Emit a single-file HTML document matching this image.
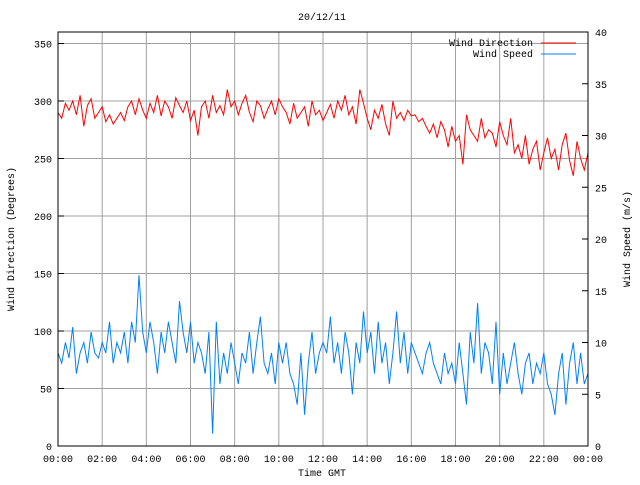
<!DOCTYPE html>
<html><head><meta charset="utf-8"><style>
body{margin:0;background:#fff}
svg text{font-family:"Liberation Mono",monospace;font-size:10px;fill:#000}
</style></head><body>
<svg id="chart" width="640" height="480">
<rect width="640" height="480" fill="#fff"/>
<g id="grid"></g><g id="series"></g><g id="axes"></g>
</svg>
<script>
const dirValues=[290,285,298,292,300,288,305,278,296,302,285,290,295,
282,288,280,285,290,283,295,300,288,302,292,285,
298,290,305,287,300,295,285,303,296,290,300,283,
292,270,295,300,285,305,290,296,288,310,295,300,
288,298,305,290,282,300,296,285,293,300,288,302,
295,290,280,298,285,290,295,278,300,288,292,283,
290,297,285,300,292,305,288,295,280,310,298,285,
275,292,285,297,280,270,300,285,290,283,292,287,
288,282,285,278,272,280,268,282,275,260,278,265,
270,245,288,275,270,265,285,268,275,272,260,282,
270,262,285,255,262,250,270,245,258,265,240,255,
268,250,258,240,262,272,248,235,265,250,240,255];
const speedValues=[9,8,10,8.5,11.5,7,9,10,8,11,9,8.5,10,
9,12,8,10,9,11,8,12,10,16.5,11,9,
12,10,7,11,9,12,10,8,14,11,9,12,
8,10,9,7,11,1.2,12,6,9,7,10,8,
6,9,8,11,7,10,12.5,8,7,9,6,10,
8,10,7,6,4,9,3,8,11,7,9,10,
9,12.5,8,10,7,11,9,5,10,8,13,9,
11,7,12,8,10,6,9,13,8,11,7,10,
9,8,7,9,10,8,7,6,9,7,8,6,
10,7,4,11,8,13.8,7,10,9,6,12,5,
9,6,8,10,7,5,8,9,6,8,7,9,
6,5,3,7,9,4,8,10,6,9,6,7];
const xTickLabels=["00:00","02:00","04:00","06:00","08:00","10:00","12:00","14:00","16:00","18:00","20:00","22:00","00:00"];
const leftTicks=[0,50,100,150,200,250,300,350];
const rightTicks=[0,5,10,15,20,25,30,35,40];
const X0=58,X1=588,Y0=446,Y1=32;
const xH=h=>X0+(X1-X0)*h/24;
const yL=v=>Y0-(Y0-Y1)*v/360;
const yR=v=>Y0-(Y0-Y1)*v/40;
const NS="http://www.w3.org/2000/svg";
function mk(parent,tag,attrs,text){const e=document.createElementNS(NS,tag);for(const k in attrs)e.setAttribute(k,attrs[k]);if(text!==undefined)e.textContent=text;document.getElementById(parent).appendChild(e);return e;}
xTickLabels.forEach((t,i)=>{const x=xH(i*2);
 const g=mk('grid','line',{x1:x,x2:x,y1:Y1,y2:Y0,stroke:'#a0a0a0'});
 
 
 const l=mk('axes','text',{x:x,y:462,'text-anchor':'middle'},t);
 
 });
leftTicks.forEach(v=>{const y=yL(v);
 const g=mk('grid','line',{x1:X0,x2:X1,y1:y,y2:y,stroke:'#a0a0a0'});
 
 
 mk('axes','line',{x1:X0,x2:X0+6,y1:y,y2:y,stroke:'#000'});
 const l=mk('axes','text',{x:52,y:y+4,'text-anchor':'end'},v);
 
 });
rightTicks.forEach(v=>{const y=yR(v);
 mk('axes','line',{x1:X1-6,x2:X1,y1:y,y2:y,stroke:'#000'});
 const l=mk('axes','text',{x:595,y:y+4},v);
 
 });
const dp=dirValues.map((v,i)=>xH(i*24/(dirValues.length-1)).toFixed(1)+','+yL(v).toFixed(1)).join(' ');
const d=mk('series','polyline',{points:dp,fill:'none',stroke:'#ff0000','stroke-width':1});


const sp=speedValues.map((v,i)=>xH(i*24/(speedValues.length-1)).toFixed(1)+','+yR(v).toFixed(1)).join(' ');
const s=mk('series','polyline',{points:sp,fill:'none',stroke:'#0080ff','stroke-width':1});


const b=mk('axes','rect',{x:X0,y:Y1,width:X1-X0,height:Y0-Y1,fill:'none',stroke:'#000'});


</script>
<svg width="640" height="480" style="position:absolute;left:0;top:0">
<text x="322" y="20" text-anchor="middle" style="font-family:'Liberation Mono',monospace;font-size:10px">20/12/11</text>
<text x="322" y="476" text-anchor="middle" style="font-family:'Liberation Mono',monospace;font-size:10px">Time GMT</text>
<text transform="translate(14,239) rotate(-90)" text-anchor="middle" style="font-family:'Liberation Mono',monospace;font-size:10px">Wind Direction (Degrees)</text>
<text transform="translate(630,239) rotate(-90)" text-anchor="middle" style="font-family:'Liberation Mono',monospace;font-size:10px">Wind Speed (m/s)</text>
<g>
<text x="533" y="46" text-anchor="end" style="font-family:'Liberation Mono',monospace;font-size:10px">Wind Direction</text>
<line x1="541" x2="576" y1="43" y2="43" stroke="#ff0000"/>
<text x="533" y="57" text-anchor="end" style="font-family:'Liberation Mono',monospace;font-size:10px">Wind Speed</text>
<line x1="541" x2="576" y1="54" y2="54" stroke="#0080ff"/>
</g>
</svg>
</body></html>
